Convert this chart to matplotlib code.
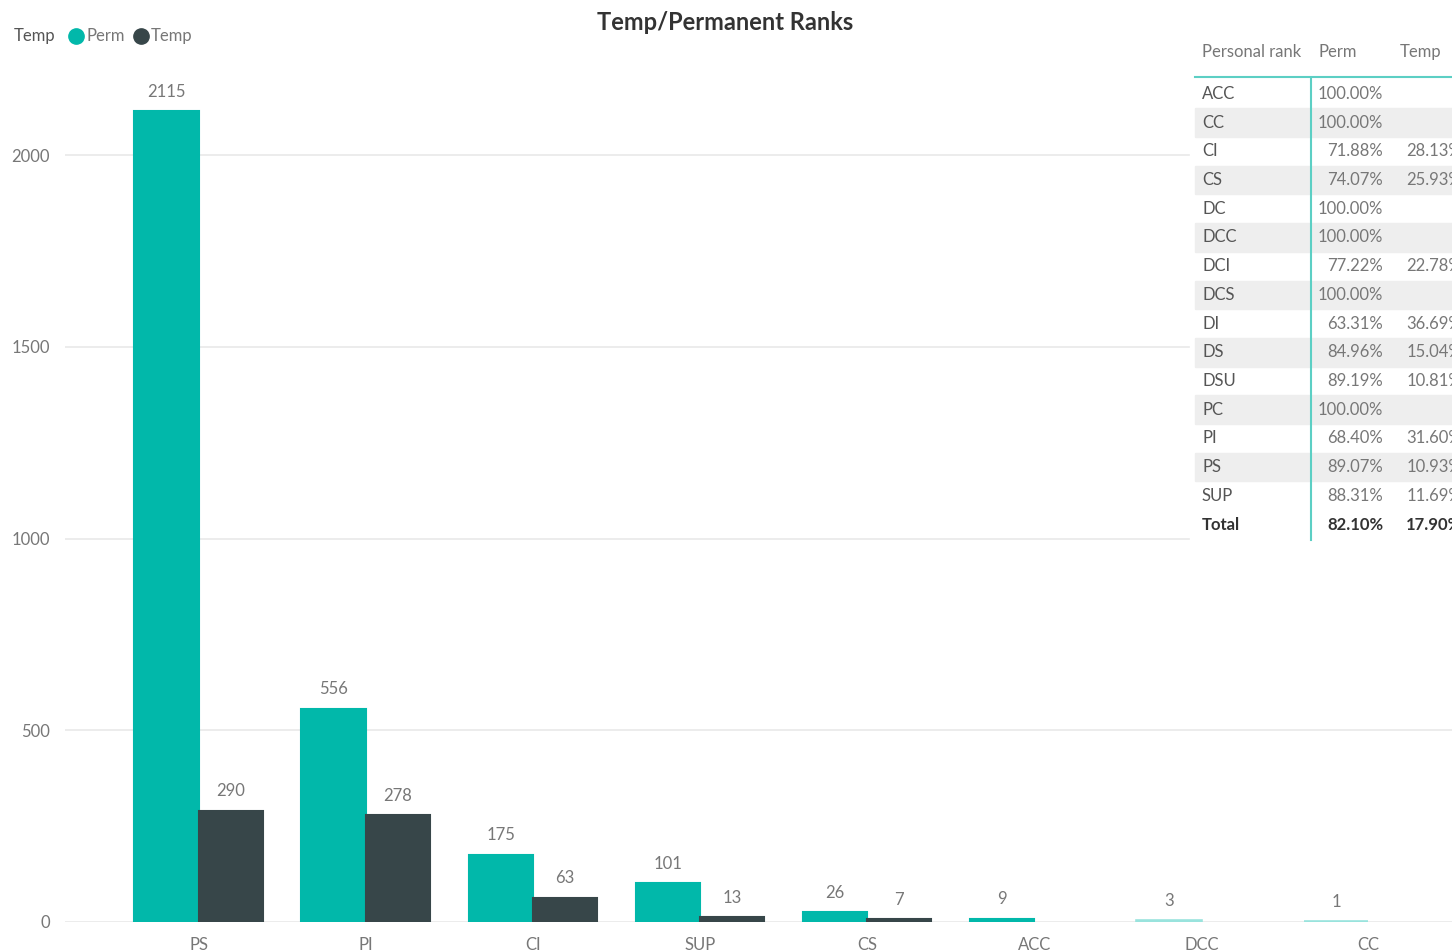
import matplotlib.pyplot as plt
import numpy as np
from matplotlib.patches import Rectangle
from matplotlib.lines import Line2D

W, H = 1452, 952

ranks = ["PS", "PI", "CI", "SUP", "CS", "ACC", "DCC", "CC"]
perm = [2115, 556, 175, 101, 26, 9, 3, 1]
temp = [290, 278, 63, 13, 7, 0, 0, 0]
faded = ["DCC", "CC"]

table_ranks = ["ACC", "CC", "CI", "CS", "DC", "DCC", "DCI", "DCS",
               "DI", "DS", "DSU", "PC", "PI", "PS", "SUP"]
table_perm = ["100.00%", "100.00%", "71.88%", "74.07%", "100.00%", "100.00%",
              "77.22%", "100.00%", "63.31%", "84.96%", "89.19%", "100.00%",
              "68.40%", "89.07%", "88.31%"]
table_temp = ["", "", "28.13%", "25.93%", "", "", "22.78%", "",
              "36.69%", "15.04%", "10.81%", "", "31.60%", "10.93%", "11.69%"]
total_perm, total_temp = "82.10%", "17.90%"

TEAL = "#01B8AA"
TEAL_LIGHT = "#99E3DD"
DARK = "#374649"
GRAY = "#777777"
GRID = "#E9E9E9"
FONT = ["Liberation Sans Narrow", "Lato", "DejaVu Sans"]

plt.rcParams["font.family"] = FONT


def fx(px):
    return px / W


def fy(py):
    return 1 - py / H


fig = plt.figure(figsize=(W / 100, H / 100), dpi=100)
ax = fig.add_axes([fx(65), fy(922), fx(1452) - fx(65), fy(70) - fy(922)])

x = np.arange(len(ranks))
bw = 0.385
perm_colors = [TEAL_LIGHT if r in faded else TEAL for r in ranks]
# same-colour edge keeps the tiny bars visible
perm_lw = [2.6 if r in faded else 1.5 for r in ranks]
ax.bar(x - bw / 2, perm, width=bw, color=perm_colors, edgecolor=perm_colors,
       linewidth=perm_lw, zorder=2)
ax.bar(x + bw / 2, temp, width=bw, color=DARK,
       edgecolor=[DARK if v else "none" for v in temp], linewidth=1.5, zorder=2)

for xi, v in zip(x, perm):
    ax.text(xi - bw / 2, v + 30, str(v), ha="center", va="bottom",
            fontsize=12, color=GRAY)
for xi, v in zip(x, temp):
    if v:
        ax.text(xi + bw / 2, v + 30, str(v), ha="center", va="bottom",
                fontsize=12, color=GRAY)

ax.set_xlim(-0.8, 7.5)
ax.set_ylim(0, 2222)
ax.set_yticks([0, 500, 1000, 1500, 2000])
ax.set_xticks(x)
ax.set_xticklabels(ranks)
ax.tick_params(length=0, colors=GRAY, labelsize=12)
ax.tick_params(axis="y", pad=11)
ax.tick_params(axis="x", pad=11)
ax.grid(axis="y", color=GRID, linewidth=1.2, zorder=0)
for s in ax.spines.values():
    s.set_visible(False)

fig.text(fx(725), fy(22), "Temp/Permanent Ranks", ha="center", va="center",
         fontsize=17, fontweight="bold", color="#333333")

# legend row
fig.text(fx(14), fy(36), "Temp", ha="left", va="center", fontsize=12, color="#555555")
fig.add_artist(Line2D([fx(76)], [fy(36)], marker="o", markersize=11,
                      color=TEAL, linestyle="none"))
fig.text(fx(86), fy(36), "Perm", ha="left", va="center", fontsize=12, color=GRAY)
fig.add_artist(Line2D([fx(141)], [fy(36)], marker="o", markersize=11,
                      color=DARK, linestyle="none"))
fig.text(fx(151), fy(36), "Temp", ha="left", va="center", fontsize=12, color=GRAY)

# percentage table on the right
fig.patches.append(Rectangle((fx(1190), fy(545)), fx(262), fy(40) - fy(545),
                             transform=fig.transFigure, color="white", zorder=1))
row_y0, row_h = 94, 28.7
for i in range(len(table_ranks)):
    if i % 2 == 1:
        yc = row_y0 + i * row_h
        fig.patches.append(Rectangle((fx(1195), fy(yc + row_h / 2)), fx(257),
                                     fy(yc - row_h / 2) - fy(yc + row_h / 2),
                                     transform=fig.transFigure, color="#EEEEEE",
                                     zorder=1.5))

fig.text(fx(1202), fy(52), "Personal rank", ha="left", va="center", fontsize=12, color=GRAY)
fig.text(fx(1318), fy(52), "Perm", ha="left", va="center", fontsize=12, color=GRAY)
fig.text(fx(1400), fy(52), "Temp", ha="left", va="center", fontsize=12, color=GRAY)
fig.add_artist(Line2D([fx(1195), fx(1452)], [fy(77), fy(77)], color="#5CCFC4", linewidth=1.5))
fig.add_artist(Line2D([fx(1311), fx(1311)], [fy(78), fy(540)], color="#5CCFC4", linewidth=1.5))

for i, (r, p, t) in enumerate(zip(table_ranks, table_perm, table_temp)):
    yc = row_y0 + i * row_h
    fig.text(fx(1202), fy(yc), r, ha="left", va="center", fontsize=12, color="#555555")
    fig.text(fx(1383), fy(yc), p, ha="right", va="center", fontsize=12, color=GRAY)
    if t:
        fig.text(fx(1462), fy(yc), t, ha="right", va="center", fontsize=12, color=GRAY)

yt = row_y0 + len(table_ranks) * row_h + 1
fig.text(fx(1202), fy(yt), "Total", ha="left", va="center", fontsize=12,
         fontweight="bold", color="#333333")
fig.text(fx(1383), fy(yt), total_perm, ha="right", va="center", fontsize=12,
         fontweight="bold", color="#333333")
fig.text(fx(1462), fy(yt), total_temp, ha="right", va="center", fontsize=12,
         fontweight="bold", color="#333333")

fig.savefig("out.png", dpi=100)
